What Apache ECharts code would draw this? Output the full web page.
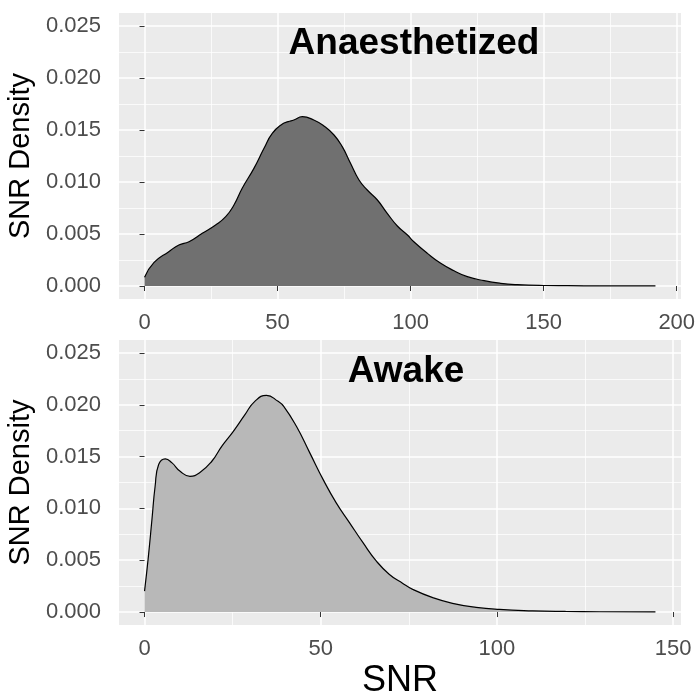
<!DOCTYPE html>
<html><head><meta charset="utf-8">
<script src="https://cdn.jsdelivr.net/npm/echarts@6/dist/echarts.min.js"></script>
<style>html,body{margin:0;padding:0;background:#fff}#c{width:696px;height:694px}</style>
</head><body><div id="c"></div>
<script>
const panelTitles = ['Anaesthetized', 'Awake'];
const xTitle = 'SNR';
const yTitle = 'SNR Density';

const anesSNR = [0, 3.5, 9.1, 12.9, 16.7, 21.7, 26.7, 30.5, 33.6, 36.7, 41.1, 44.9, 48, 51.8, 54, 56.1, 59.3, 63.6, 67.4, 71.2, 74.3, 77.4, 80.6, 83.7, 87.5, 91.2, 95, 98.8, 101.2, 106.3, 111.3, 116.3, 121.3, 127.6, 133.8, 140.1, 150, 159, 171, 192];
const anesDensity = [0.00084, 0.00224, 0.0033, 0.00394, 0.00426, 0.00507, 0.00587, 0.00667, 0.00779, 0.0094, 0.01131, 0.01324, 0.01468, 0.01558, 0.0158, 0.01596, 0.01628, 0.01596, 0.01538, 0.01452, 0.0134, 0.0118, 0.01019, 0.00923, 0.00827, 0.00699, 0.00577, 0.0049, 0.00426, 0.00314, 0.00218, 0.00147, 0.0009, 0.00051, 0.00026, 0.00013, 0.00005, 0.00003, 0.00001, 0.000005];

const awakeSNR = [0, 1.1, 2.1, 3.0, 4.0, 5.9, 7.8, 10.1, 12.9, 15.8, 19.1, 21.9, 25.2, 28.5, 31.3, 34.6, 37.9, 39.5, 43.1, 46.9, 50.7, 54.4, 58.2, 62, 65.8, 69.5, 73.3, 76.1, 81.8, 87.4, 94.1, 100.7, 110.1, 119.5, 129, 145];
const awakeDensity = [0.00202, 0.0054, 0.00893, 0.01214, 0.01423, 0.01478, 0.01439, 0.01358, 0.0131, 0.01349, 0.01455, 0.01599, 0.01744, 0.01905, 0.02033, 0.02091, 0.02033, 0.01985, 0.01792, 0.01536, 0.01278, 0.01054, 0.00861, 0.00669, 0.00491, 0.00363, 0.00276, 0.00219, 0.00139, 0.00084, 0.00045, 0.00025, 0.00012, 0.00006, 0.00003, 0.00001];

const yTicks = [0, 0.005, 0.01, 0.015, 0.02, 0.025];
const anesXTicks = [0, 50, 100, 150, 200];
const awakeXTicks = [0, 50, 100, 150];

const FONT = '"Liberation Sans", Arial, sans-serif';
const isTick = (v, list) => list.some(t => Math.abs(t - v) < 1e-9);

function xAxis(gi, min, max, ticks, name) {
  return {
    type: 'value', gridIndex: gi, min: min, max: max,
    minInterval: 50, maxInterval: 50,
    name: name || '', nameLocation: 'middle', nameGap: 38,
    nameTextStyle: {fontSize: 36, color: '#000', fontFamily: FONT},
    axisLine: {show: false},
    axisTick: {show: true, length: 5, lineStyle: {color: '#333', width: 1}, customValues: ticks},
    axisLabel: {customValues: ticks, margin: 13, fontSize: 22, color: '#4D4D4D', fontFamily: FONT,
      formatter: v => isTick(v, ticks) ? String(v) : ''},
    splitLine: {show: true, lineStyle: {color: '#FFFFFF', width: 1.5}},
    minorTick: {show: false, splitNumber: 2},
    minorSplitLine: {show: true, lineStyle: {color: '#FFFFFF', width: 0.75}}
  };
}
function yAxis(gi) {
  return {
    type: 'value', gridIndex: gi, min: -0.00125, max: 0.02625,
    minInterval: 0.005, maxInterval: 0.005,
    name: yTitle, nameLocation: 'middle', nameGap: 80, nameRotate: 90,
    nameTextStyle: {fontSize: 29, color: '#000', fontFamily: FONT},
    axisLine: {show: false},
    axisTick: {show: true, length: 5, lineStyle: {color: '#333', width: 1}, customValues: yTicks},
    axisLabel: {customValues: yTicks, margin: 18, fontSize: 22, color: '#4D4D4D', fontFamily: FONT,
      formatter: v => isTick(v, yTicks) ? v.toFixed(3) : ''},
    splitLine: {show: true, lineStyle: {color: '#FFFFFF', width: 1.5}},
    minorTick: {show: false, splitNumber: 2},
    minorSplitLine: {show: true, lineStyle: {color: '#FFFFFF', width: 0.75}}
  };
}
function densitySeries(gi, xs, ys, fill) {
  return {
    type: 'line', xAxisIndex: gi, yAxisIndex: gi, z: 5,
    data: xs.map((x, i) => [x, ys[i]]),
    showSymbol: false, symbol: 'none', smooth: 0.5,
    lineStyle: {color: '#000', width: 1.2},
    areaStyle: {color: fill, opacity: 1, origin: 0},
    silent: true, animation: false
  };
}

const chart = echarts.init(document.getElementById('c'), null, {renderer: 'canvas'});
chart.setOption({
  animation: false,
  backgroundColor: '#FFFFFF',
  grid: [
    {left: 119, top: 13, width: 562, height: 286, show: true, backgroundColor: '#EBEBEB', borderWidth: 0, containLabel: false, outerBoundsMode: 'none'},
    {left: 119, top: 340, width: 562, height: 285, show: true, backgroundColor: '#EBEBEB', borderWidth: 0, containLabel: false, outerBoundsMode: 'none'}
  ],
  xAxis: [xAxis(0, -9.6, 201.6, anesXTicks), xAxis(1, -7.25, 152.25, awakeXTicks, xTitle)],
  yAxis: [yAxis(0), yAxis(1)],
  series: [
    densitySeries(0, anesSNR, anesDensity, '#707070'),
    densitySeries(1, awakeSNR, awakeDensity, '#B8B8B8')
  ],
  graphic: [
    {type: 'text', z: 100, zlevel: 1, x: 414, y: 44, style: {text: panelTitles[0], fontSize: 37, fontWeight: 'bold', fontFamily: FONT, fill: '#000', align: 'center', verticalAlign: 'middle'}},
    {type: 'text', z: 100, zlevel: 1, x: 406, y: 372, style: {text: panelTitles[1], fontSize: 37, fontWeight: 'bold', fontFamily: FONT, fill: '#000', align: 'center', verticalAlign: 'middle'}}
  ]
});
</script></body></html>
